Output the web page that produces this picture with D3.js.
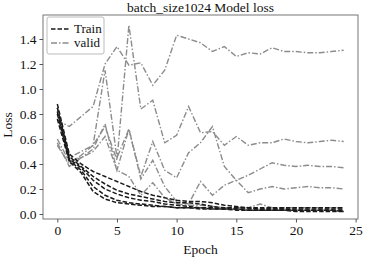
<!DOCTYPE html>
<html>
<head>
<meta charset="UTF-8">
<title>batch_size1024 Model loss</title>
<script src="https://d3js.org/d3.v7.min.js"></script>
<style>
  * { margin: 0; padding: 0; box-sizing: border-box; }
  body { background: #fff; font-family: "Liberation Serif", "DejaVu Serif", serif; }
  svg text { font-family: "Liberation Serif", "DejaVu Serif", serif; }
</style>
</head>
<body>
<div id="chart"></div>
<script>
// data
const epochs = d3.range(0, 25);
const xTicks = [0, 5, 10, 15, 20, 25];
const yTicks = [0.0, 0.2, 0.4, 0.6, 0.8, 1.0, 1.2, 1.4];

const train1 = [0.88, 0.48, 0.40, 0.34, 0.30, 0.26, 0.22, 0.18, 0.15, 0.13, 0.11, 0.10, 0.10, 0.09, 0.07, 0.06, 0.05, 0.05, 0.05, 0.05, 0.05, 0.05, 0.05, 0.05, 0.05];
const train2 = [0.85, 0.46, 0.38, 0.30, 0.24, 0.19, 0.16, 0.14, 0.12, 0.10, 0.09, 0.09, 0.08, 0.06, 0.05, 0.05, 0.05, 0.04, 0.04, 0.04, 0.04, 0.04, 0.04, 0.04, 0.04];
const train3 = [0.82, 0.44, 0.37, 0.27, 0.20, 0.16, 0.13, 0.11, 0.10, 0.08, 0.07, 0.06, 0.05, 0.05, 0.04, 0.04, 0.04, 0.04, 0.04, 0.04, 0.03, 0.03, 0.03, 0.03, 0.03];
const train4 = [0.80, 0.43, 0.35, 0.22, 0.15, 0.11, 0.09, 0.08, 0.07, 0.06, 0.05, 0.05, 0.05, 0.04, 0.04, 0.04, 0.03, 0.03, 0.03, 0.03, 0.03, 0.03, 0.03, 0.03, 0.02];
const train5 = [0.76, 0.42, 0.33, 0.18, 0.12, 0.09, 0.08, 0.07, 0.06, 0.06, 0.05, 0.05, 0.04, 0.04, 0.04, 0.03, 0.03, 0.03, 0.03, 0.03, 0.02, 0.02, 0.02, 0.02, 0.02];

const valid1 = [0.75, 0.70, 0.78, 0.86, 1.20, 1.34, 1.19, 1.21, 1.03, 1.15, 1.43, 1.40, 1.37, 1.30, 1.34, 1.26, 1.29, 1.28, 1.33, 1.30, 1.30, 1.29, 1.29, 1.30, 1.31];
const valid2 = [0.85, 0.45, 0.50, 0.55, 0.70, 0.43, 1.51, 0.84, 0.91, 0.57, 0.63, 0.86, 0.65, 0.66, 0.55, 0.62, 0.55, 0.57, 0.57, 0.60, 0.58, 0.57, 0.58, 0.59, 0.58];
const valid3 = [0.55, 0.40, 0.47, 0.55, 1.15, 0.45, 0.68, 0.30, 0.58, 0.35, 0.29, 0.49, 0.57, 0.70, 0.38, 0.27, 0.17, 0.20, 0.22, 0.20, 0.21, 0.22, 0.21, 0.21, 0.20];
const valid4 = [0.60, 0.42, 0.45, 0.52, 0.72, 0.35, 0.68, 0.28, 0.43, 0.22, 0.10, 0.08, 0.26, 0.15, 0.23, 0.27, 0.31, 0.36, 0.41, 0.39, 0.38, 0.39, 0.38, 0.38, 0.37];
const valid5 = [0.57, 0.38, 0.45, 0.50, 0.62, 0.35, 0.30, 0.15, 0.25, 0.13, 0.08, 0.07, 0.07, 0.06, 0.05, 0.05, 0.05, 0.08, 0.05, 0.05, 0.05, 0.05, 0.05, 0.05, 0.05];

const trainSeries = [train1, train2, train3, train4, train5];
const validSeries = [valid1, valid2, valid3, valid4, valid5];

const W = 368, H = 258;
const margin = { top: 15, right: 10, bottom: 39, left: 43 };

const svg = d3.select("#chart").append("svg")
    .attr("width", W)
    .attr("height", H);

const x = d3.scaleLinear().domain([-1.2, 25.2]).range([margin.left, W - margin.right]);
const y = d3.scaleLinear().domain([-0.04, 1.592]).range([H - margin.bottom, margin.top]);

const line = d3.line()
    .x((d, i) => x(epochs[i]))
    .y(d => y(d));

// valid lines
svg.append("g").selectAll("path")
    .data(validSeries)
    .join("path")
    .attr("d", line)
    .attr("fill", "none")
    .attr("stroke", "#8c8c8c")
    .attr("stroke-width", 1.4)
    .attr("stroke-dasharray", "6,2,1.5,2");

// train lines
svg.append("g").selectAll("path")
    .data(trainSeries)
    .join("path")
    .attr("d", line)
    .attr("fill", "none")
    .attr("stroke", "#1a1a1a")
    .attr("stroke-width", 1.5)
    .attr("stroke-dasharray", "4.5,2");

// frame
svg.append("rect")
    .attr("x", margin.left)
    .attr("y", margin.top)
    .attr("width", W - margin.left - margin.right)
    .attr("height", H - margin.top - margin.bottom)
    .attr("fill", "none")
    .attr("stroke", "#777")
    .attr("stroke-width", 1);

// axes
svg.append("g")
    .attr("transform", `translate(0,${H - margin.bottom})`)
    .call(d3.axisBottom(x).tickValues(xTicks).tickSize(3.5).tickPadding(3).tickFormat(d3.format("d")))
    .call(g => {
        g.select(".domain").remove();
        g.selectAll("line").attr("stroke", "#555");
        g.selectAll("text").attr("fill", "#111").style("font-size", "13.5px");
    });

svg.append("g")
    .attr("transform", `translate(${margin.left},0)`)
    .call(d3.axisLeft(y).tickValues(yTicks).tickSize(3.5).tickPadding(3).tickFormat(d3.format(".1f")))
    .call(g => {
        g.select(".domain").remove();
        g.selectAll("line").attr("stroke", "#555");
        g.selectAll("text").attr("fill", "#111").style("font-size", "13.5px");
    });

// title + axis labels
svg.append("text")
    .attr("x", (margin.left + W - margin.right) / 2)
    .attr("y", 12)
    .attr("text-anchor", "middle")
    .style("font-size", "13.5px")
    .attr("fill", "#111")
    .text("batch_size1024 Model loss");

svg.append("text")
    .attr("x", (margin.left + W - margin.right) / 2)
    .attr("y", 254)
    .attr("text-anchor", "middle")
    .style("font-size", "13.5px")
    .attr("fill", "#111")
    .text("Epoch");

svg.append("text")
    .attr("transform", `translate(12,${(margin.top + H - margin.bottom) / 2 + 8}) rotate(-90)`)
    .attr("text-anchor", "middle")
    .style("font-size", "13.5px")
    .attr("fill", "#111")
    .text("Loss");

// legend
const legend = svg.append("g").attr("transform", "translate(47,17)");
legend.append("rect")
    .attr("width", 57)
    .attr("height", 37)
    .attr("rx", 2)
    .attr("fill", "#fff")
    .attr("fill-opacity", 0.85)
    .attr("stroke", "#bbb");

const legendItems = [
    { label: "Train", color: "#1a1a1a", dash: "4.5,2" },
    { label: "valid", color: "#8c8c8c", dash: "6,2,1.5,2" }
];
legendItems.forEach((d, i) => {
    const gy = 12 + i * 14;
    legend.append("line")
        .attr("x1", 4).attr("x2", 23)
        .attr("y1", gy).attr("y2", gy)
        .attr("stroke", d.color)
        .attr("stroke-width", 1.5)
        .attr("stroke-dasharray", d.dash);
    legend.append("text")
        .attr("x", 27)
        .attr("y", gy + 4)
        .style("font-size", "13px")
        .attr("fill", "#111")
        .text(d.label);
});
</script>
</body>
</html>
